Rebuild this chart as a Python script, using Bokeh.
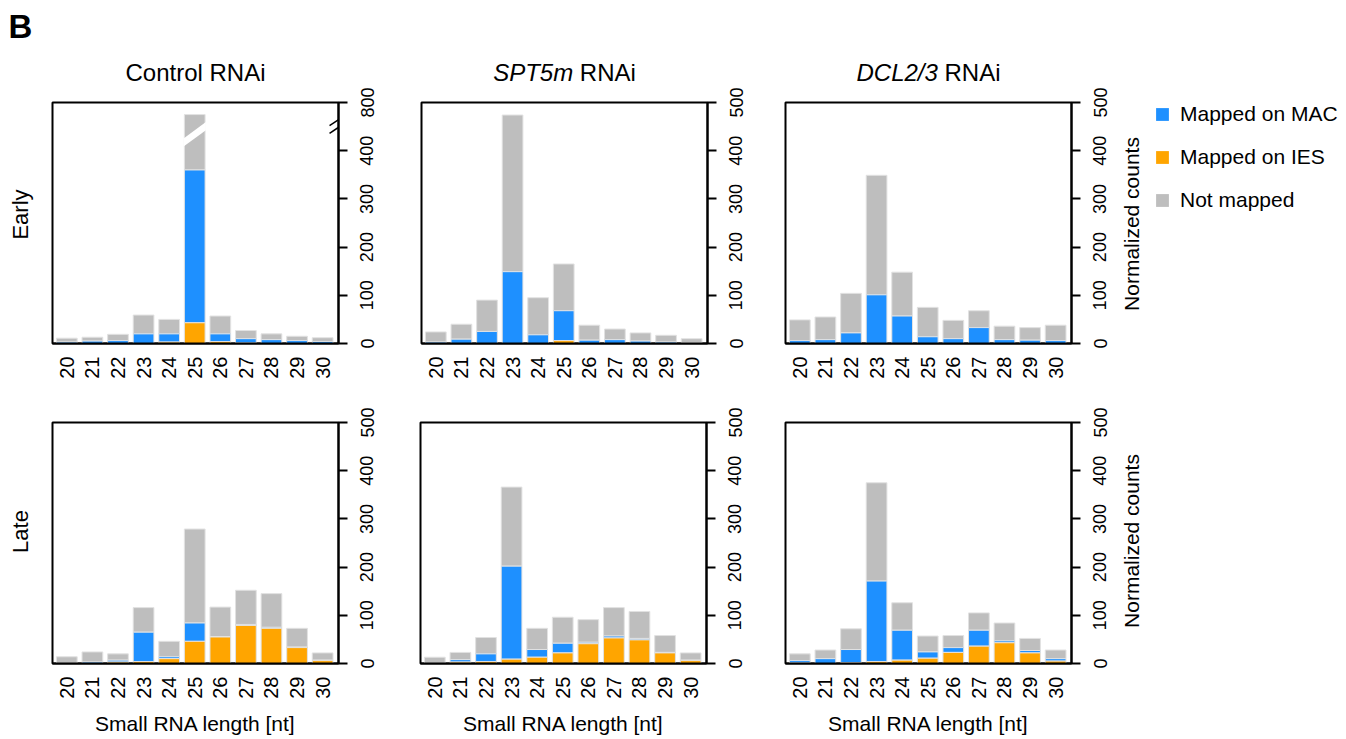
import math
import numpy as np
from bokeh.plotting import figure
from bokeh.models import Range1d, FixedTicker, Legend, LegendItem, ColumnDataSource
from bokeh.core.properties import value
from bokeh.layouts import column, row
from bokeh.embed import file_html
from bokeh.resources import INLINE

# ---------------- data ----------------
lengths = [20, 21, 22, 23, 24, 25, 26, 27, 28, 29, 30]   # small RNA length [nt]
y_ticks = [0, 100, 200, 300, 400, 500]

# segment heights (normalized counts); stack order: IES (bottom), MAC, Not mapped (top)
control_early_ies = [0, 0, 0, 0, 3, 43, 4, 1, 0, 0, 0]
control_early_mac = [3, 5, 6, 20, 17, 317, 16, 9, 8, 6, 4]
control_early_not = [8, 8, 13, 39, 30, 340, 37, 17, 12, 9, 8]

spt5m_early_ies = [0, 0, 0, 0, 0, 6, 0, 0, 0, 0, 0]
spt5m_early_mac = [3, 9, 25, 149, 18, 62, 7, 8, 5, 3, 1]
spt5m_early_not = [21, 31, 65, 325, 77, 97, 31, 22, 17, 14, 9]

dcl_early_ies = [0, 0, 0, 0, 0, 0, 0, 0, 0, 0, 0]
dcl_early_mac = [6, 8, 22, 101, 57, 14, 10, 33, 8, 7, 6]
dcl_early_not = [43, 47, 82, 248, 91, 61, 38, 35, 28, 26, 32]

control_late_ies = [0, 0, 3, 4, 10, 46, 55, 79, 73, 33, 6]
control_late_mac = [0, 3, 4, 61, 4, 38, 1, 2, 2, 1, 1]
control_late_not = [14, 21, 13, 51, 32, 195, 61, 71, 70, 39, 15]

spt5m_late_ies = [0, 3, 4, 9, 13, 22, 41, 53, 49, 22, 6]
spt5m_late_mac = [0, 5, 16, 193, 16, 20, 3, 4, 3, 1, 1]
spt5m_late_not = [13, 15, 34, 164, 44, 54, 47, 59, 56, 35, 15]

dcl_late_ies = [1, 0, 2, 4, 7, 11, 23, 36, 43, 22, 5]
dcl_late_mac = [5, 10, 27, 167, 62, 13, 10, 33, 4, 5, 5]
dcl_late_not = [14, 18, 43, 204, 57, 33, 25, 36, 37, 25, 18]

series_labels = ["Mapped on MAC", "Mapped on IES", "Not mapped"]

# ---------------- style ----------------
COL_MAC = "#1E90FF"
COL_IES = "#FFA500"
COL_NOT = "#BEBEBE"
EDGE = "#E2E2E2"
FONT = "Liberation Sans"

FRAME_W, FRAME_H = 286, 241
X_START, X_END = 19.44, 30.62
BAR_W = 0.81
Y_MAX = 500
BREAK_AT, BREAK_FACTOR = 400, 4      # broken axis: 400..800 compressed into 400..500


def compress(v):
    v = np.asarray(v, float)
    return np.where(v <= BREAK_AT, v, BREAK_AT + (v - BREAK_AT) / BREAK_FACTOR)


def blank(f):
    f.grid.visible = False
    f.outline_line_color = None


def panel(ies, mac, notm, lb, tb, bb, xlabel=False, broken=False):
    ies = np.array(ies, float)
    mac = np.array(mac, float)
    notm = np.array(notm, float)
    t_ies = ies
    t_mac = ies + mac
    t_not = ies + mac + notm
    if broken:
        t_not = compress(t_not)
    src = ColumnDataSource(dict(x=lengths, t_ies=t_ies, t_mac=t_mac, t_not=t_not))

    p = figure(frame_width=FRAME_W, frame_height=FRAME_H,
               x_range=Range1d(X_START, X_END), y_range=Range1d(0, Y_MAX),
               y_axis_location="right", output_backend="svg", toolbar_location=None,
               min_border_left=lb, min_border_right=14, min_border_top=tb, min_border_bottom=bb,
               background_fill_color="white", border_fill_color="white")
    p.grid.visible = False
    p.outline_line_color = "black"
    p.outline_line_width = 2

    p.vbar(x="x", width=BAR_W, bottom="t_mac", top="t_not", source=src,
           fill_color=COL_NOT, line_color=EDGE, line_width=1)
    p.vbar(x="x", width=BAR_W, bottom="t_ies", top="t_mac", source=src,
           fill_color=COL_MAC, line_color=EDGE, line_width=1)
    p.vbar(x="x", width=BAR_W, bottom=0, top="t_ies", source=src,
           fill_color=COL_IES, line_color=EDGE, line_width=1)

    xa = p.xaxis[0]
    xa.ticker = FixedTicker(ticks=lengths)
    xa.major_label_orientation = math.pi / 2
    xa.major_tick_out = 0
    xa.major_tick_in = 0
    xa.minor_tick_out = 0
    xa.minor_tick_in = 0
    xa.axis_line_width = 2
    xa.axis_line_color = "black"
    xa.major_label_standoff = 13
    xa.major_label_text_font = FONT
    xa.major_label_text_font_size = "20px"
    xa.major_label_text_color = "black"
    if xlabel:
        xa.axis_label = "Small RNA length [nt]"
        xa.axis_label_text_font = FONT
        xa.axis_label_text_font_size = "21px"
        xa.axis_label_text_font_style = "normal"
        xa.axis_label_text_color = "black"
        xa.axis_label_standoff = 10

    # right axis: line and ticks only (labels are drawn by the strip to its right)
    ya = p.yaxis[0]
    ya.ticker = FixedTicker(ticks=y_ticks)
    ya.major_label_overrides = {t: "" for t in y_ticks}
    ya.major_label_standoff = 0
    ya.major_tick_out = 9
    ya.major_tick_in = 0
    ya.minor_tick_out = 0
    ya.minor_tick_in = 0
    ya.axis_line_width = 2
    ya.axis_line_color = "black"
    ya.major_tick_line_width = 2

    if broken:
        i = int(np.argmax(t_not))
        xc = lengths[i]
        half = BAR_W / 2 + 0.03
        mid, rise, thick = 434, 34, 17
        p.patch(x=[xc - half, xc + half, xc + half, xc - half],
                y=[mid - rise / 2 - thick / 2, mid + rise / 2 - thick / 2,
                   mid + rise / 2 + thick / 2, mid - rise / 2 + thick / 2],
                fill_color="white", line_color=None)
        # axis break slashes (inner half, next to the axis)
        p.segment(x0=[X_END - 0.35, X_END - 0.35], y0=[436, 452],
                  x1=[X_END + 0.1, X_END + 0.1], y1=[452, 468],
                  line_color="black", line_width=1.5)
    return p


def tick_strip(tb, bb, overrides=None):
    """Tick labels of the panel on its left, reading bottom-to-top."""
    s = figure(frame_width=2, frame_height=FRAME_H, x_range=Range1d(0, 1), y_range=Range1d(0, Y_MAX),
               y_axis_location="left", x_axis_location=None, output_backend="svg", toolbar_location=None,
               min_border_left=25, min_border_right=0, min_border_top=tb, min_border_bottom=bb,
               background_fill_color="white", border_fill_color="white")
    blank(s)
    a = s.yaxis[0]
    a.ticker = FixedTicker(ticks=y_ticks)
    a.major_label_orientation = "vertical"
    a.axis_line_color = None
    a.major_tick_line_color = None
    a.minor_tick_line_color = None
    a.major_tick_out = 0
    a.major_tick_in = 0
    a.minor_tick_out = 0
    a.minor_tick_in = 0
    a.major_label_standoff = 4
    a.major_label_text_font = FONT
    a.major_label_text_font_size = "18px"
    a.major_label_text_color = "black"
    if overrides:
        a.major_label_overrides = overrides
    return s


def text_fig(x0, y0, w, h, tb=0, bb=0):
    """Helper canvas whose data units are page pixels (y measured downward as -y)."""
    f = figure(frame_width=w, frame_height=h, x_range=Range1d(x0, x0 + w),
               y_range=Range1d(-(y0 + h), -y0), x_axis_location=None, y_axis_location=None,
               output_backend="svg", toolbar_location=None,
               min_border=0, min_border_left=0, min_border_right=0, min_border_top=tb, min_border_bottom=bb,
               background_fill_color="white", border_fill_color="white")
    blank(f)
    return f


def put_text(f, x, y, text, size, style="normal", align="left", baseline="middle", angle=0.0):
    f.text(x=[x], y=[-y], text=[text], angle=angle, text_align=align, text_baseline=baseline,
           text_font=value(FONT), text_font_size=f"{size}px", text_font_style=style,
           text_color="black")


# page geometry (pixels)
PAGE_W = 1338
LEFT_W = 44
HEAD_H = 86
TOP_T, TOP_B = 16, 49
BOT_T, BOT_B = 30, 74
ROW1_H = TOP_T + FRAME_H + TOP_B
ROW2_H = BOT_T + FRAME_H + BOT_B
FR_LEFT = [52, 421, 785]

f1 = panel(control_early_ies, control_early_mac, control_early_not, 8, TOP_T, TOP_B, broken=True)
f2 = panel(spt5m_early_ies, spt5m_early_mac, spt5m_early_not, 42, TOP_T, TOP_B)
f3 = panel(dcl_early_ies, dcl_early_mac, dcl_early_not, 37, TOP_T, TOP_B)
f4 = panel(control_late_ies, control_late_mac, control_late_not, 8, BOT_T, BOT_B, xlabel=True)
f5 = panel(spt5m_late_ies, spt5m_late_mac, spt5m_late_not, 41, BOT_T, BOT_B, xlabel=True)
f6 = panel(dcl_late_ies, dcl_late_mac, dcl_late_not, 38, BOT_T, BOT_B, xlabel=True)

s1 = tick_strip(TOP_T, TOP_B, overrides={500: "800"})
s2 = tick_strip(TOP_T, TOP_B)
s3 = tick_strip(TOP_T, TOP_B)
s4 = tick_strip(BOT_T, BOT_B)
s5 = tick_strip(BOT_T, BOT_B)
s6 = tick_strip(BOT_T, BOT_B)

# left strip: panel letter and row labels
ls = text_fig(0, 0, LEFT_W, HEAD_H + ROW1_H + ROW2_H)
put_text(ls, 8, 25.5, "B", 33, style="bold")
put_text(ls, 20, 214, "Early", 22, align="center", angle=math.pi / 2)
put_text(ls, 20, 531, "Late", 22, align="center", angle=math.pi / 2)

# header: column titles
hd = text_fig(LEFT_W, 0, PAGE_W - LEFT_W, HEAD_H)
TS = 24
TY = 71.5
centers = [fl + FRAME_W / 2 for fl in FR_LEFT]
put_text(hd, centers[0], TY, "Control RNAi", TS, align="center")
for c, ital, em in ((centers[1], "SPT5m", 3.334), (centers[2], "DCL2/3", 3.390)):
    w_it, w_sp, w_rg = em * TS, 0.278 * TS, 2.333 * TS
    split = c - (w_it + w_sp + w_rg) / 2 + w_it
    put_text(hd, split, TY, ital, TS, style="italic", align="right")
    put_text(hd, split + w_sp, TY, "RNAi", TS, align="left")

# y-axis title strips (frames aligned with the panel frames)
NC_X0, NC_W = 1112, 38
row1_frame_top = HEAD_H + TOP_T
row2_frame_top = HEAD_H + ROW1_H + BOT_T
nc1 = text_fig(NC_X0, row1_frame_top, NC_W, FRAME_H, tb=TOP_T, bb=TOP_B)
put_text(nc1, 1131, row1_frame_top + FRAME_H / 2 + 1, "Normalized counts", 21,
         align="center", angle=math.pi / 2)
nc2 = text_fig(NC_X0, row2_frame_top, NC_W, FRAME_H, tb=BOT_T, bb=BOT_B)
put_text(nc2, 1131, row2_frame_top + FRAME_H / 2 - 2, "Normalized counts", 21,
         align="center", angle=math.pi / 2)

# legend figure
LEG_X0 = NC_X0 + NC_W
fl = figure(frame_width=PAGE_W - LEG_X0 - 4, frame_height=FRAME_H, x_range=Range1d(0, 1), y_range=Range1d(0, 1),
            x_axis_location=None, y_axis_location=None, output_backend="svg", toolbar_location=None,
            min_border_left=4, min_border_right=0, min_border_top=TOP_T, min_border_bottom=TOP_B,
            background_fill_color="white", border_fill_color="white")
blank(fl)
proxy = ColumnDataSource(dict(x=[np.nan], top=[np.nan]))
rl = [fl.vbar(x="x", top="top", width=0.5, source=proxy, fill_color=c, line_color=None)
      for c in (COL_MAC, COL_IES, COL_NOT)]
legend = Legend(items=[LegendItem(label=lab, renderers=[r]) for lab, r in zip(series_labels, rl)],
                location="top_left", margin=0, padding=0, spacing=19,
                glyph_width=16, glyph_height=16, label_height=23, label_standoff=10,
                label_text_font=FONT, label_text_font_size="21px", label_text_color="black",
                label_text_baseline="middle",
                border_line_color=None, background_fill_color=None, background_fill_alpha=0)
fl.add_layout(legend)

layout = row(ls, column(hd,
                        row(f1, s1, f2, s2, f3, s3, nc1, fl),
                        row(f4, s4, f5, s5, f6, s6, nc2)))
open("out.html", "w").write(file_html(layout, INLINE))
